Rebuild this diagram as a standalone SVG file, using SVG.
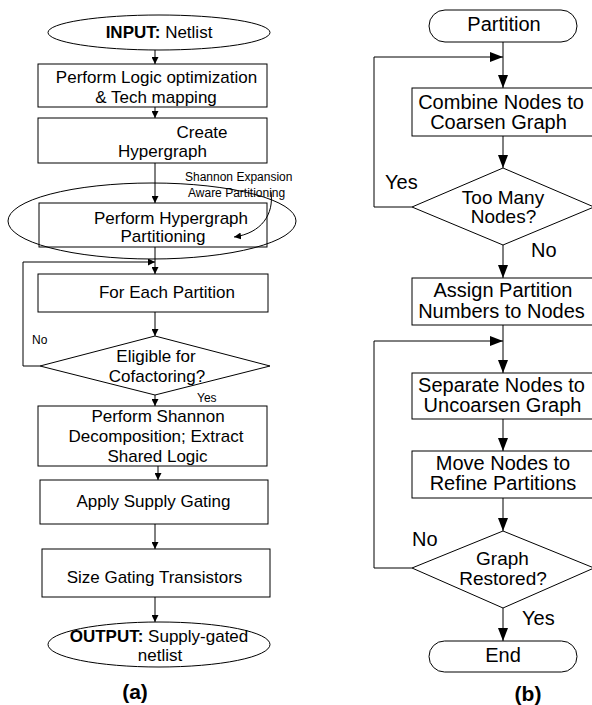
<svg xmlns="http://www.w3.org/2000/svg" width="592" height="705" viewBox="0 0 592 705">
<style>
  text { font-family: "Liberation Sans", Arial, sans-serif; fill: #000; }
  .a { font-size: 17px; text-anchor: middle; }
  .b { font-size: 20px; text-anchor: middle; }
  .d { font-size: 19px; text-anchor: middle; }
  .lbl { font-size: 12px; }
  .lblR { font-size: 20px; }
  .cap { font-size: 21px; font-weight: bold; text-anchor: middle; }
  .shape { fill: #fff; stroke: #000; stroke-width: 1; }
  .ln { fill: none; stroke: #000; stroke-width: 1; }
  .s { marker-end: url(#arrS); }
  .L { marker-end: url(#arrL); }
</style>
<defs>
  <marker id="arrS" markerWidth="7" markerHeight="7" refX="7" refY="3.5" orient="auto" markerUnits="userSpaceOnUse">
    <path d="M0,0 L7,3.5 L0,7 z" fill="#000"/>
  </marker>
  <marker id="arrL" markerWidth="13" markerHeight="10" refX="13" refY="5" orient="auto" markerUnits="userSpaceOnUse">
    <path d="M0,0 L13,5 L0,10 z" fill="#000"/>
  </marker>
</defs>
<rect width="592" height="705" fill="#fff"/>

<!-- Panel (a) -->
<g id="a-input">
  <ellipse class="shape" cx="159" cy="32.5" rx="111" ry="17.5"/>
  <text class="a" x="159" y="38"><tspan font-weight="bold">INPUT:</tspan> Netlist</text>
</g>
<g id="a-logicopt">
  <rect class="shape" x="38" y="64" width="229" height="43"/>
  <text class="a" x="156.5" y="82.5">Perform Logic optimization</text>
  <text class="a" x="156" y="102.5">&amp; Tech mapping</text>
</g>
<g id="a-hypergraph">
  <rect class="shape" x="38" y="118" width="229" height="45"/>
  <text class="a" x="202" y="137.5">Create</text>
  <text class="a" x="162.5" y="157">Hypergraph</text>
</g>
<g id="a-partitioning">
  <rect class="shape" x="39" y="203" width="228" height="44"/>
  <text class="a" x="171" y="224">Perform Hypergraph</text>
  <text class="a" x="163" y="241.5">Partitioning</text>
</g>
<g id="a-shannon-aware">
  <ellipse class="ln" cx="152" cy="221" rx="144" ry="38"/>
  <text class="lbl" x="185" y="181">Shannon Expansion</text>
  <text class="lbl" x="188" y="197">Aware Partitioning</text>
  <path class="ln s" d="M271,192 C274,214 262,233 234,237"/>
</g>
<g id="a-foreach">
  <rect class="shape" x="38" y="274" width="230" height="38"/>
  <text class="a" x="167" y="298">For Each Partition</text>
</g>
<g id="a-eligible">
  <polygon class="shape" points="155,336 270,366 155,395 40,366"/>
  <text class="a" x="156" y="361.5">Eligible for</text>
  <text class="a" x="157" y="381.5">Cofactoring?</text>
</g>
<g id="a-decomp">
  <rect class="shape" x="38" y="406" width="229" height="60"/>
  <text class="a" x="158" y="421.5">Perform Shannon</text>
  <text class="a" x="156" y="441.5">Decomposition; Extract</text>
  <text class="a" x="157.5" y="461.5">Shared Logic</text>
</g>
<g id="a-supplygating">
  <rect class="shape" x="40" y="480" width="228" height="44"/>
  <text class="a" x="153.5" y="506.5">Apply Supply Gating</text>
</g>
<g id="a-size">
  <rect class="shape" x="42" y="549" width="228" height="48"/>
  <text class="a" x="154.5" y="582.5">Size Gating Transistors</text>
</g>
<g id="a-output">
  <ellipse class="shape" cx="159" cy="644.5" rx="111" ry="22.5"/>
  <text class="a" x="159" y="641.5"><tspan font-weight="bold">OUTPUT:</tspan> Supply-gated</text>
  <text class="a" x="160" y="660.5">netlist</text>
</g>
<text class="cap" x="135" y="699">(a)</text>

<g id="a-connectors">
  <line class="ln s" x1="155" y1="50" x2="155" y2="64"/>
  <line class="ln s" x1="155" y1="107" x2="155" y2="118"/>
  <line class="ln s" x1="155" y1="163" x2="155" y2="203"/>
  <line class="ln s" x1="155" y1="247" x2="155" y2="274"/>
  <polyline class="ln s" points="40,366 23,366 23,262 155,262"/>
  <line class="ln s" x1="155" y1="312" x2="155" y2="336"/>
  <line class="ln s" x1="155" y1="395" x2="155" y2="406"/>
  <line class="ln s" x1="158" y1="466" x2="158" y2="480"/>
  <line class="ln s" x1="155" y1="524" x2="155" y2="549"/>
  <line class="ln s" x1="155" y1="597" x2="155" y2="622"/>
  <text class="lbl" x="32" y="344">No</text>
  <text class="lbl" x="197" y="401.5">Yes</text>
</g>

<!-- Panel (b) -->
<g id="b-partition">
  <rect class="shape" x="429" y="10" width="148" height="32" rx="16" ry="16"/>
  <text class="b" x="504" y="31">Partition</text>
</g>
<g id="b-combine">
  <rect class="shape" x="412" y="88" width="190" height="48"/>
  <text class="b" x="501" y="108.5">Combine Nodes to</text>
  <text class="b" x="498.5" y="128.5">Coarsen Graph</text>
</g>
<g id="b-toomany">
  <polygon class="shape" points="503,168 594,207 503,245 412,207"/>
  <text class="d" x="503" y="203.5">Too Many</text>
  <text class="d" x="503.5" y="223">Nodes?</text>
</g>
<g id="b-assign">
  <rect class="shape" x="412" y="278" width="190" height="47"/>
  <text class="b" x="503" y="297">Assign Partition</text>
  <text class="b" x="501.5" y="317.5">Numbers to Nodes</text>
</g>
<g id="b-separate">
  <rect class="shape" x="412" y="373" width="190" height="46"/>
  <text class="b" x="501.5" y="392">Separate Nodes to</text>
  <text class="b" x="502.5" y="412">Uncoarsen Graph</text>
</g>
<g id="b-move">
  <rect class="shape" x="412" y="451" width="190" height="47"/>
  <text class="b" x="503" y="470">Move Nodes to</text>
  <text class="b" x="503" y="490">Refine Partitions</text>
</g>
<g id="b-restored">
  <polygon class="shape" points="503,531 594,568 503,608 412,568"/>
  <text class="d" x="502.5" y="565">Graph</text>
  <text class="d" x="503" y="584.5">Restored?</text>
</g>
<g id="b-end">
  <rect class="shape" x="429" y="641" width="148" height="31" rx="15.5" ry="15.5"/>
  <text class="b" x="503" y="662">End</text>
</g>
<text class="cap" x="528" y="701">(b)</text>

<g id="b-connectors">
  <line class="ln L" x1="503" y1="42" x2="503" y2="88"/>
  <polyline class="ln L" points="412,207 374,207 374,57 503,57"/>
  <line class="ln L" x1="503" y1="136" x2="503" y2="168"/>
  <line class="ln L" x1="503" y1="245" x2="503" y2="278"/>
  <line class="ln L" x1="503" y1="325" x2="503" y2="373"/>
  <polyline class="ln L" points="412,568 374,568 374,341 503,341"/>
  <line class="ln L" x1="503" y1="419" x2="503" y2="451"/>
  <line class="ln L" x1="503" y1="498" x2="503" y2="531"/>
  <line class="ln L" x1="503" y1="608" x2="503" y2="641"/>
  <text class="lblR" x="385" y="188.5">Yes</text>
  <text class="lblR" x="531" y="257">No</text>
  <text class="lblR" x="412" y="546">No</text>
  <text class="lblR" x="522" y="625">Yes</text>
</g>
</svg>
